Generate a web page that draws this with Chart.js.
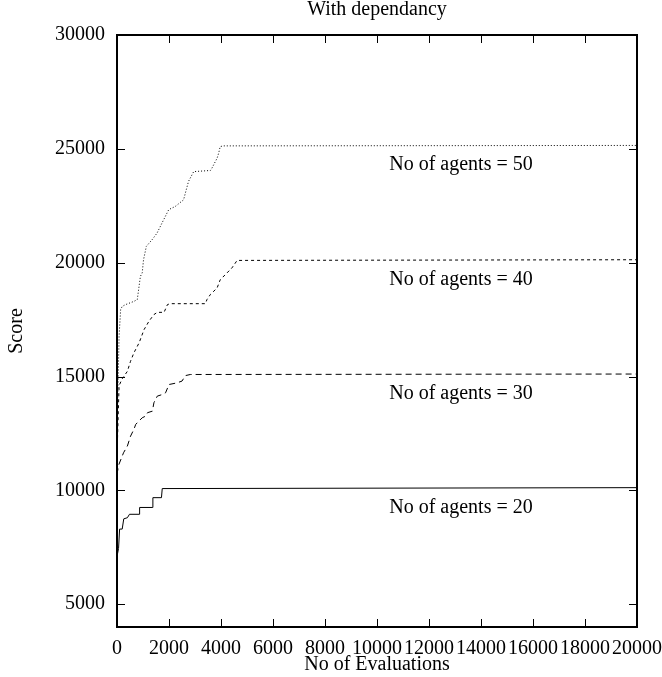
<!DOCTYPE html>
<html>
<head>
<meta charset="utf-8">
<script src="https://cdn.jsdelivr.net/npm/chart.js@4/dist/chart.umd.min.js"></script>
<style>
  html, body { margin: 0; padding: 0; background: #fff; }
  #wrap { width: 662px; height: 677px; }
</style>
</head>
<body>
<div id="wrap"><canvas id="c" width="662" height="677"></canvas></div>
<script>
// ---- data ----
const evals20 = [0, 60, 100, 200, 260, 400, 480, 850, 870, 1350, 1380, 1710, 1740, 20000];
const score20 = [7100, 7450, 8300, 8300, 8750, 8800, 8950, 8950, 9250, 9250, 9680, 9680, 10080, 10120];

const evals30 = [0, 60, 250, 400, 520, 650, 720, 970, 1100, 1170, 1360, 1420, 1550, 1740, 1870, 2000, 2300, 2500, 2630, 2820, 20000];
const score30 = [10700, 11100, 11650, 11950, 12380, 12680, 12900, 13190, 13260, 13410, 13480, 13850, 14140, 14210, 14290, 14650, 14720, 14800, 15040, 15090, 15110];

const evals40 = [0, 80, 200, 400, 520, 650, 850, 1040, 1230, 1420, 1550, 1810, 1940, 2050, 3400, 3460, 3590, 3850, 3970, 4230, 4420, 4620, 20000];
const score40 = [11500, 14600, 14900, 15230, 15670, 16040, 16480, 17060, 17430, 17720, 17820, 17820, 18160, 18200, 18200, 18380, 18600, 18890, 19250, 19550, 19770, 20100, 20130];

const evals50 = [0, 80, 140, 200, 330, 650, 780, 900, 970, 1020, 1130, 1350, 1540, 1730, 1990, 2240, 2560, 2630, 2750, 2950, 3590, 3650, 3850, 3910, 3970, 4100, 20000];
const score50 = [12500, 16770, 17940, 18080, 18160, 18300, 18380, 19400, 19550, 20130, 20720, 21010, 21300, 21740, 22330, 22470, 22760, 23060, 23570, 24000, 24050, 24150, 24590, 24810, 25100, 25130, 25150];

const seriesNames = ["No of agents = 20", "No of agents = 30", "No of agents = 40", "No of agents = 50"];
const xTickValues = [0, 2000, 4000, 6000, 8000, 10000, 12000, 14000, 16000, 18000, 20000];
const yTickValues = [5000, 10000, 15000, 20000, 25000, 30000];
const labelEval = 10470; // left edge of the in-plot series labels, in evaluations

const titleText = "With dependancy";
const xTitle = "No of Evaluations";
const yTitle = "Score";

// ---- chart ----
const FONT = "'Liberation Serif', 'Times New Roman', serif";
const FS = 20;
const pts = (xs, ys) => xs.map((x, i) => ({ x: x, y: ys[i] }));
const dashes = [[], [6, 4], [3, 3], [1, 2]];
const series = [[evals20, score20], [evals30, score30], [evals40, score40], [evals50, score50]];

const frameTicks = {
  id: 'frameTicks',
  afterDatasetsDraw(chart) {
    const { ctx, chartArea: a, scales } = chart;
    ctx.save();
    ctx.strokeStyle = '#000';
    ctx.lineWidth = 1;
    const tl = 8;
    ctx.beginPath();
    xTickValues.forEach(v => {
      const px = Math.round(scales.x.getPixelForValue(v)) + 0.5;
      ctx.moveTo(px, a.bottom); ctx.lineTo(px, a.bottom - tl);
      ctx.moveTo(px, a.top); ctx.lineTo(px, a.top + tl);
    });
    yTickValues.forEach(v => {
      const py = Math.round(scales.y.getPixelForValue(v)) + 0.5;
      ctx.moveTo(a.left, py); ctx.lineTo(a.left + tl, py);
      ctx.moveTo(a.right, py); ctx.lineTo(a.right - tl, py);
    });
    ctx.stroke();
    ctx.lineWidth = 2;
    ctx.strokeRect(a.left, a.top, a.right - a.left, a.bottom - a.top);
    ctx.fillStyle = '#000';
    ctx.font = FS + "px " + FONT;
    ctx.textAlign = 'left';
    ctx.textBaseline = 'alphabetic';
    series.forEach((s, i) => {
      const last = s[1][s[1].length - 1];
      const py = scales.y.getPixelForValue(last) + 25;
      ctx.fillText(seriesNames[i], scales.x.getPixelForValue(labelEval), py);
    });
    ctx.restore();
  }
};

new Chart(document.getElementById('c'), {
  type: 'scatter',
  data: {
    datasets: series.map((s, i) => ({
      label: seriesNames[i],
      data: pts(s[0], s[1]),
      showLine: true,
      borderColor: '#000',
      borderWidth: 1,
      borderDash: dashes[i],
      pointRadius: 0,
      pointHoverRadius: 0,
      tension: 0,
      fill: false
    }))
  },
  options: {
    responsive: false,
    animation: false,
    devicePixelRatio: 1,
    layout: { padding: { top: 0, right: 0, bottom: 0, left: 0 } },
    plugins: {
      legend: { display: false },
      tooltip: { enabled: false },
      title: {
        display: true,
        text: titleText,
        fullSize: false,
        color: '#000',
        font: { family: FONT, size: FS, weight: 'normal', lineHeight: 1 },
        padding: { top: 0, bottom: 15 }
      }
    },
    scales: {
      x: {
        type: 'linear',
        min: 0, max: 20000,
        afterBuildTicks: s => { s.ticks = xTickValues.map(v => ({ value: v })); },
        afterFit: s => { s.height = 50; s.paddingRight = 25; s.paddingLeft = 0; },
        grid: { display: false, drawTicks: false },
        border: { display: false },
        ticks: {
          color: '#000', padding: 10, maxRotation: 0, autoSkip: false,
          font: { family: FONT, size: FS },
          callback: v => String(v)
        },
        title: {
          display: true, text: xTitle, color: '#000',
          font: { family: FONT, size: FS },
          padding: { top: 0, bottom: 0 }
        }
      },
      y: {
        type: 'linear',
        min: 4000, max: 30000,
        afterBuildTicks: s => { s.ticks = yTickValues.map(v => ({ value: v })); },
        afterFit: s => { s.width = 117; },
        grid: { display: false, drawTicks: false },
        border: { display: false },
        ticks: {
          color: '#000', padding: 12, autoSkip: false,
          font: { family: FONT, size: FS },
          callback: v => String(v)
        },
        title: {
          display: true, text: yTitle, color: '#000',
          font: { family: FONT, size: FS },
          padding: { top: 5, bottom: 0 }
        }
      }
    }
  },
  plugins: [frameTicks]
});
</script>
</body>
</html>
